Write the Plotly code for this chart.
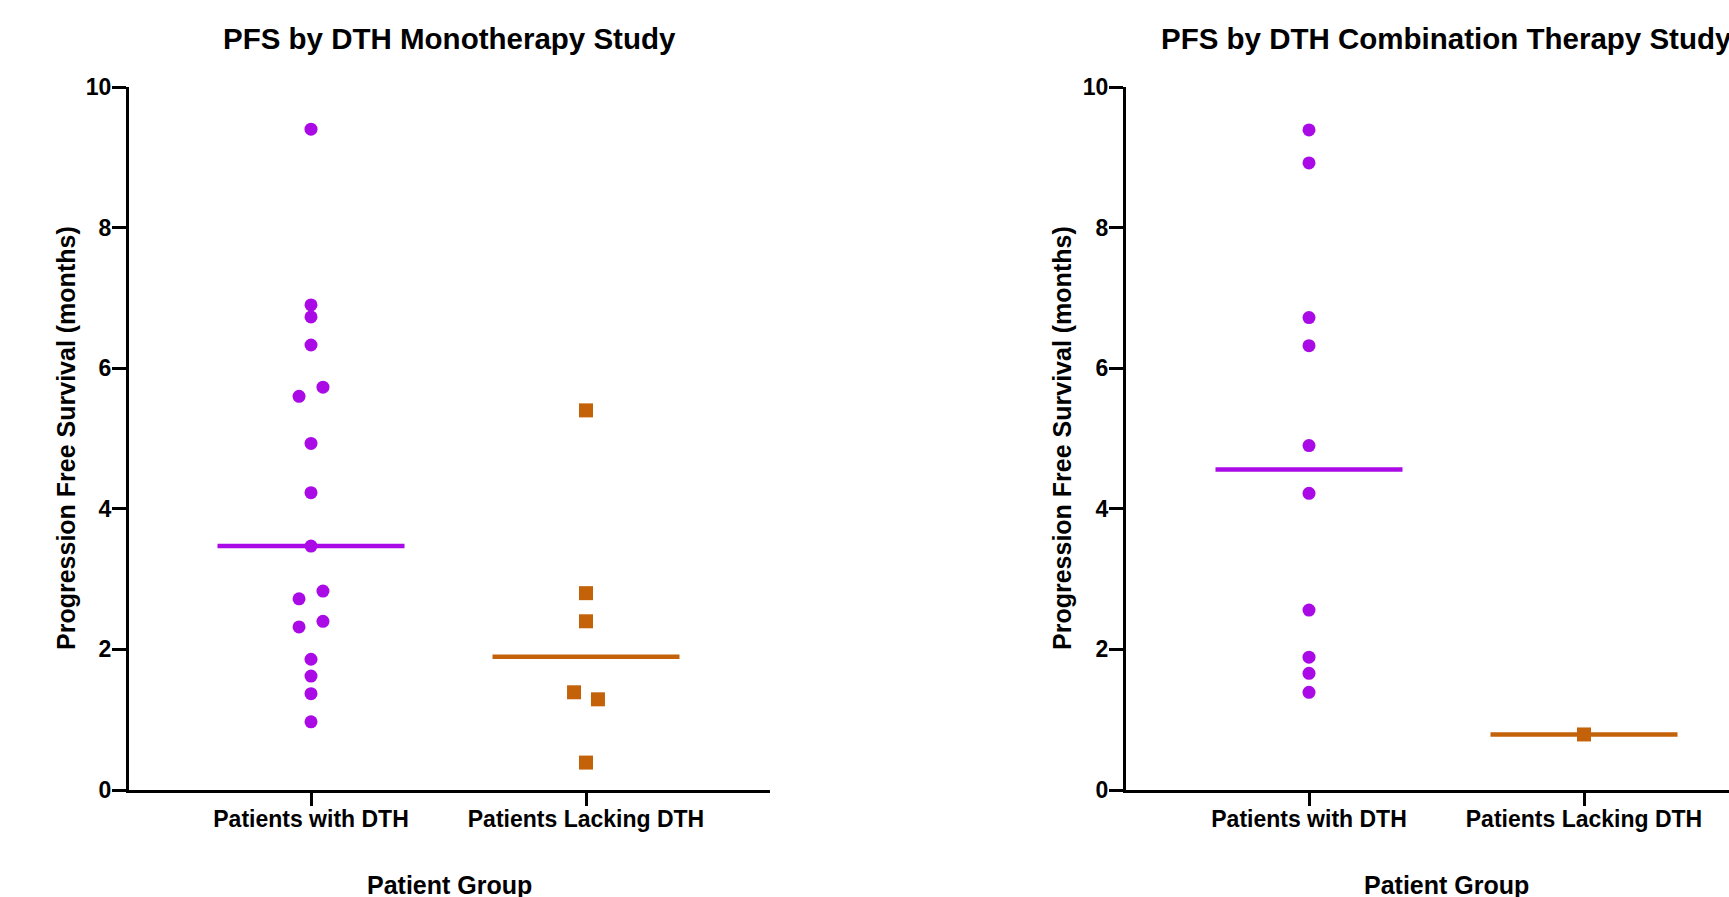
import numpy as np
import plotly.graph_objects as go

# ---------------- data ----------------
categories = ["Patients with DTH", "Patients Lacking DTH"]
mono_with_dth = [9.40, 6.90, 6.73, 6.33, 5.60, 5.73, 4.93, 4.23, 3.47,
                 2.72, 2.83, 2.32, 2.40, 1.86, 1.62, 1.37, 0.97]
mono_lacking_dth = [5.40, 2.80, 2.40, 1.39, 1.29, 0.39]
combo_with_dth = [9.39, 8.92, 6.72, 6.32, 4.90, 4.22, 2.56, 1.89, 1.66, 1.39]
combo_lacking_dth = [0.79]
y_ticks = [0, 2, 4, 6, 8, 10]
panel_titles = ["PFS by DTH Monotherapy Study", "PFS by DTH Combination Therapy Study"]
x_title = "Patient Group"
y_title = "Progression Free Survival (months)"

# ---------------- style ----------------
PURPLE = "#AA0AE6"
ORANGE = "#C4620A"
FONT = "Arial, Liberation Sans, Helvetica, sans-serif"
W, H = 1729, 897


def swarm(values, thresh=0.15, step=0.087):
    """Spread points whose values nearly coincide (simple beeswarm)."""
    vals = np.asarray(values, float)
    offs = np.zeros(len(vals))
    if len(vals) == 0:
        return offs
    order = np.argsort(-vals, kind="stable")
    clusters, cur = [], [order[0]]
    for a, b in zip(order[:-1], order[1:]):
        if abs(vals[a] - vals[b]) < thresh:
            cur.append(b)
        else:
            clusters.append(cur)
            cur = [b]
    clusters.append(cur)
    for c in clusters:
        c = sorted(c)
        n = len(c)
        for k, idx in enumerate(c):
            offs[idx] = (k - (n - 1) / 2) * step
    return offs


fig = go.Figure()

panels = [
    ("x", "y", [mono_with_dth, mono_lacking_dth]),
    ("x2", "y2", [combo_with_dth, combo_lacking_dth]),
]
styles = [(PURPLE, "circle", 13), (ORANGE, "square", 14)]
half_len = 0.34

for xa, ya, groups in panels:
    for gi, (vals, (col, sym, sz)) in enumerate(zip(groups, styles)):
        xs = gi + swarm(vals)
        med = float(np.median(vals))
        fig.add_trace(go.Scatter(
            x=[gi - half_len, gi + half_len], y=[med, med], mode="lines",
            line=dict(color=col, width=4.5), xaxis=xa, yaxis=ya,
            showlegend=False, hoverinfo="skip"))
        fig.add_trace(go.Scatter(
            x=xs, y=vals, mode="markers",
            marker=dict(color=col, symbol=sym, size=sz, line=dict(width=0)),
            xaxis=xa, yaxis=ya, showlegend=False,
            name=categories[gi]))

# layout geometry (pixels)
px_per_unit = 275.0
left_x0, left_x1 = 129, 770
right_x0 = 1126
cat0_off = 182
y_top, y_bot = 87, 790

ydom = [(H - y_bot) / H, (H - y_top) / H]

axis_common = dict(
    showline=True, linewidth=3, linecolor="black",
    ticks="outside", tickwidth=3, tickcolor="black",
    showgrid=False, zeroline=False, automargin=False,
    tickfont=dict(family=FONT, size=23, color="black", weight="bold"),
)

fig.update_layout(
    width=W, height=H, autosize=False,
    margin=dict(l=0, r=0, t=0, b=0, pad=0, autoexpand=False),
    paper_bgcolor="white", plot_bgcolor="white",
    showlegend=False,
    xaxis=dict(domain=[left_x0 / W, left_x1 / W],
               range=[-cat0_off / px_per_unit, (left_x1 - left_x0 - cat0_off) / px_per_unit],
               tickmode="array", tickvals=[0, 1], ticktext=categories,
               anchor="y", ticklen=13, ticklabelstandoff=-7, **axis_common),
    yaxis=dict(domain=ydom, range=[0, 10], tickmode="array", tickvals=y_ticks,
               anchor="x", ticklen=14, ticklabelstandoff=-4, **axis_common),
    xaxis2=dict(domain=[right_x0 / W, 1.0],
                range=[-(cat0_off + 1) / px_per_unit, (W - right_x0 - cat0_off - 1) / px_per_unit],
                tickmode="array", tickvals=[0, 1], ticktext=categories,
                anchor="y2", ticklen=13, ticklabelstandoff=-7, **axis_common),
    yaxis2=dict(domain=ydom, range=[0, 10], tickmode="array", tickvals=y_ticks,
                anchor="x2", ticklen=14, ticklabelstandoff=-4, **axis_common),
)

centers = [(left_x0 + left_x1) / 2, right_x0 + (left_x1 - left_x0) / 2]
ytitle_x = [66.5, 1062.5]
ann = []
for i in range(2):
    ann.append(dict(text=panel_titles[i], x=centers[i] / W, y=1 - 38 / H,
                    xref="paper", yref="paper", xanchor="center", yanchor="middle",
                    showarrow=False,
                    font=dict(family=FONT, size=29.5, color="black", weight="bold")))
    ann.append(dict(text=x_title, x=centers[i] / W, y=1 - 885 / H,
                    xref="paper", yref="paper", xanchor="center", yanchor="middle",
                    showarrow=False,
                    font=dict(family=FONT, size=25, color="black", weight="bold")))
    ann.append(dict(text=y_title, x=ytitle_x[i] / W, y=1 - ((y_top + y_bot) / 2) / H,
                    xref="paper", yref="paper", xanchor="center", yanchor="middle",
                    textangle=-90, showarrow=False,
                    font=dict(family=FONT, size=25, color="black", weight="bold")))
fig.update_layout(annotations=ann)

fig.write_html("out.html")
